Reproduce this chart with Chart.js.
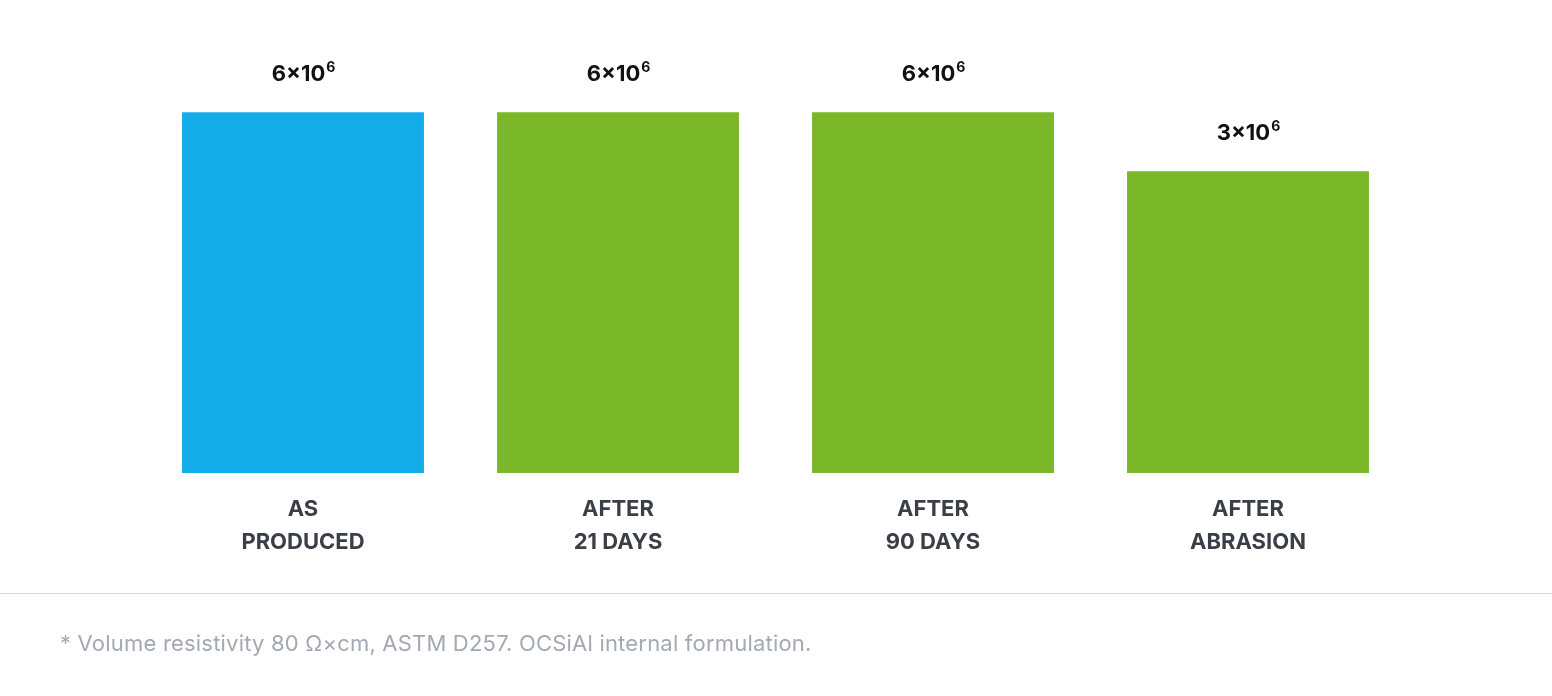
<!DOCTYPE html>
<html><head><meta charset="utf-8">
<script src="https://cdn.jsdelivr.net/npm/chart.js@4"></script>
<style>
html,body{margin:0;padding:0;background:#fff;overflow:hidden}
#wrap{position:absolute;left:0;top:0;width:1552px;height:696px}
#rule{position:absolute;left:0;top:593px;width:1552px;height:1px;background:#d3d6da}
#note{position:absolute;left:60px;top:630px;font:22px Inter,"Open Sans",sans-serif;color:#a3a9b3;letter-spacing:0.2px}
</style></head><body>
<div id="wrap"><canvas id="c" width="1552" height="696"></canvas></div>
<div id="rule"></div>
<div id="note">* Volume resistivity 80 Ω×cm, ASTM D257. OCSiAl internal formulation.</div>
<script>
const categories = [["AS","PRODUCED"],["AFTER","21 DAYS"],["AFTER","90 DAYS"],["AFTER","ABRASION"]];
const values = [6e6, 6e6, 6e6, 3e6];
const mantissas = ["6","6","6","3"];
const exponents = ["6","6","6","6"];
const colors = ["#13abe8","#7ab829","#7ab829","#7ab829"];

const labelPlugin = {
  id:'labels',
  afterDatasetsDraw(chart){
    const ctx = chart.ctx;
    const meta = chart.getDatasetMeta(0);
    meta.data.forEach((bar,i)=>{
      ctx.save();
      ctx.fillStyle = '#111';
      ctx.font = 'bold 22px Inter, sans-serif';
      const base = mantissas[i] + '×10';
      ctx.textBaseline = 'alphabetic';
      const w1 = ctx.measureText(base).width;
      ctx.font = 'bold 14px Inter, sans-serif';
      const w2 = ctx.measureText(exponents[i]).width;
      let x = bar.x - (w1+w2)/2;
      const y = bar.y - 31;
      ctx.font = 'bold 22px Inter, sans-serif';
      ctx.textAlign = 'left';
      ctx.fillText(base, x, y);
      ctx.font = 'bold 14px Inter, sans-serif';
      ctx.fillText(exponents[i], x + w1 + 1, y - 9);
      ctx.fillStyle = '#3a3f47';
      ctx.font = 'bold 22px Inter, sans-serif';
      ctx.textAlign = 'center';
      ctx.fillText(categories[i][0], bar.x, 516);
      ctx.fillText(categories[i][1], bar.x, 549);
      ctx.restore();
    });
  }
};

new Chart(document.getElementById('c'), {
  type:'bar',
  data:{labels:categories.map(c=>c.join(' ')), datasets:[{data:values, backgroundColor:colors, barPercentage:0.768, categoryPercentage:1}]},
  options:{
    responsive:false, animation:false,
    layout:{padding:{left:145.5,right:146.5,top:40,bottom:223}},
    plugins:{legend:{display:false},tooltip:{enabled:false}},
    scales:{
      x:{display:false},
      y:{type:'logarithmic', display:false, min:87000, max:1.4e7}
    }
  },
  plugins:[labelPlugin]
});
</script>
</body></html>
